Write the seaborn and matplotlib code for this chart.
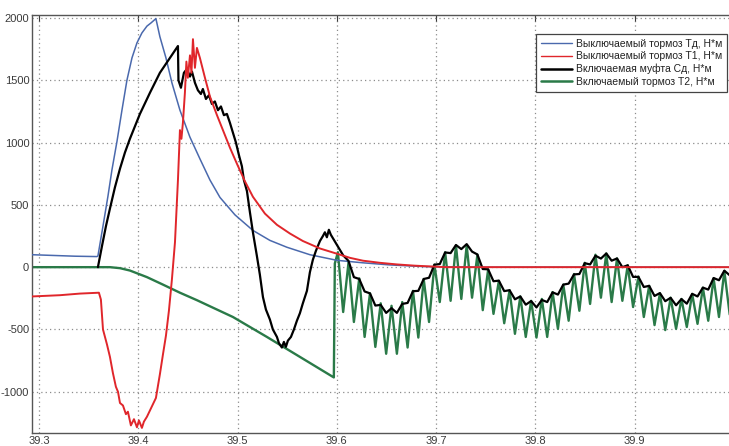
import matplotlib
matplotlib.use("Agg")
import matplotlib.pyplot as plt
import seaborn as sns
import pandas as pd
from matplotlib.lines import Line2D

# ---------------- data (time in s, torque in N*m) ----------------
x_ticks = [39.3, 39.4, 39.5, 39.6, 39.7, 39.8, 39.9]
x_tick_labels = ["39.3", "39.4", "39.5", "39.6", "39.7", "39.8", "39.9"]
y_ticks = [-1000, -500, 0, 500, 1000, 1500, 2000]
y_tick_labels = ["-1000", "-500", "0", "500", "1000", "1500", "2000"]

labels = ["Выключаемый тормоз Тд, Н*м", "Выключаемый тормоз Т1, Н*м",
          "Включаемая муфта Сд, Н*м", "Включаемый тормоз Т2, Н*м"]

td_t = [39.2930, 39.3111, 39.3363, 39.3584, 39.3594, 39.3645, 39.3695, 39.3735, 39.3786,
        39.3836, 39.3886, 39.3937, 39.3987, 39.4037, 39.4088, 39.4128, 39.4178, 39.4218,
        39.4279, 39.4339, 39.4420, 39.4520, 39.4621, 39.4722, 39.4823, 39.4974, 39.5155,
        39.5326, 39.5497, 39.5729, 39.6001, 39.6263, 39.6535, 39.6867, 39.7139, 39.7441, 40.0]
td_v = [100, 95, 88, 85, 90, 330, 570, 780, 1010,
        1260, 1500, 1680, 1800, 1880, 1935, 1960, 1995, 1850,
        1680, 1480, 1260, 1045, 870, 700, 560, 420, 295,
        215, 160, 100, 55, 35, 18, 5, 2, 0, 0]

t1_t = [39.2930, 39.3211, 39.3413, 39.3604, 39.3624, 39.3645, 39.3685, 39.3715, 39.3745,
        39.3775, 39.3796, 39.3816, 39.3846, 39.3876, 39.3896, 39.3926, 39.3957, 39.3987,
        39.4007, 39.4037, 39.4057, 39.4088, 39.4118, 39.4148, 39.4178, 39.4218, 39.4249,
        39.4279, 39.4309, 39.4339, 39.4370, 39.4400, 39.4420, 39.4435, 39.4450, 39.4470,
        39.4485, 39.4500, 39.4521, 39.4536, 39.4551, 39.4571, 39.4591, 39.4621, 39.4672,
        39.4722, 39.4793, 39.4853, 39.4923, 39.4994, 39.5074, 39.5155, 39.5276, 39.5397,
        39.5528, 39.5658, 39.5830, 39.6001, 39.6132, 39.6263, 39.6434, 39.6605, 39.6786,
        39.6937, 39.7109, 40.0]
t1_v = [-235, -225, -212, -205, -260, -500, -620, -720, -850,
        -960, -1000, -1090, -1110, -1180, -1160, -1270, -1220, -1285,
        -1230, -1290, -1240, -1200, -1150, -1100, -1050, -860, -700,
        -550, -350, -100, 200, 700, 1100, 1030, 1160, 1400,
        1650, 1520, 1700, 1560, 1830, 1600, 1760, 1680, 1520,
        1370, 1220, 1100, 960, 830, 690, 565, 430, 340,
        270, 210, 150, 108, 75, 52, 35, 22, 12,
        6, 0, 0]

cd_t = [39.3594, 39.3635, 39.3675, 39.3715, 39.3765, 39.3816, 39.3866, 39.3916, 39.4017,
        39.4118, 39.4218, 39.4319,
        39.4400, 39.4405, 39.4430, 39.4460, 39.4490, 39.4521, 39.4541, 39.4571, 39.4601,
        39.4631, 39.4651, 39.4682, 39.4712, 39.4742, 39.4772, 39.4803, 39.4833, 39.4863,
        39.4893, 39.4923, 39.4954, 39.4984, 39.5014, 39.5044, 39.5064, 39.5095, 39.5125,
        39.5155, 39.5195, 39.5225, 39.5256, 39.5286, 39.5326, 39.5356, 39.5397, 39.5417,
        39.5447, 39.5467, 39.5487, 39.5507, 39.5538, 39.5568, 39.5598, 39.5628, 39.5658,
        39.5699, 39.5729, 39.5759, 39.5789, 39.5830, 39.5860, 39.5880, 39.5900, 39.5920,
        39.5940, 39.5970, 39.6001,
        39.6064, 39.6118, 39.6172, 39.6226, 39.6280, 39.6334, 39.6388, 39.6442, 39.6497, 39.6551,
        39.6605, 39.6659, 39.6713, 39.6767, 39.6821, 39.6875, 39.6929, 39.6983, 39.7037, 39.7091,
        39.7146, 39.7200, 39.7254, 39.7308, 39.7362, 39.7416, 39.7470, 39.7524, 39.7578, 39.7632,
        39.7686, 39.7740, 39.7794, 39.7848, 39.7903, 39.7957, 39.8011, 39.8065, 39.8119, 39.8173,
        39.8227, 39.8281, 39.8335, 39.8389, 39.8443, 39.8497, 39.8551, 39.8605, 39.8660, 39.8714,
        39.8768, 39.8822, 39.8876, 39.8930, 39.8984, 39.9038, 39.9092, 39.9146, 39.9200, 39.9254,
        39.9308, 39.9362, 39.9417, 39.9471, 39.9525, 39.9579, 39.9633, 39.9687, 39.9741, 39.9795,
        39.9849, 39.9903, 39.9957]
cd_v = [0, 170, 330, 470, 640, 790, 920, 1030, 1230,
        1400, 1560, 1680,
        1775, 1500, 1440, 1560, 1590, 1530, 1570, 1480, 1420,
        1390, 1430, 1350, 1380, 1310, 1330, 1260, 1290, 1220,
        1230, 1160, 1080, 1000, 900, 810, 700, 610, 440,
        280, 90, -60, -240, -340, -420, -500, -560, -610,
        -645, -600, -640, -590, -560, -500, -430, -370, -290,
        -190, -40, 60, 130, 210, 250, 280, 240, 300,
        260, 220, 180,
        95, 50, -80, -95, -195, -210, -308, -303, -367, -329,
        -367, -295, -287, -193, -190, -95, -85, 20, 25, 118,
        113, 178, 145, 185, 125, 102, -15, -17, -113, -108,
        -192, -185, -258, -235, -301, -272, -323, -263, -280, -202,
        -220, -140, -132, -58, -55, 32, 22, 92, 69, 110,
        52, 70, 0, 15, -78, -78, -159, -150, -231, -208,
        -273, -246, -306, -256, -293, -214, -235, -164, -180, -87,
        -105, -28, -65]

t2_t = [39.2930, 39.3715, 39.3816, 39.3916, 39.4088, 39.4249, 39.4420, 39.4591, 39.4752,
        39.4954, 39.5296, 39.5628, 39.5970, 39.5980, 39.6011,
        39.6064, 39.6118, 39.6172, 39.6226, 39.6280, 39.6334, 39.6388, 39.6442, 39.6497, 39.6551,
        39.6605, 39.6659, 39.6713, 39.6767, 39.6821, 39.6875, 39.6929, 39.6983, 39.7037, 39.7091,
        39.7146, 39.7200, 39.7254, 39.7308, 39.7362, 39.7416, 39.7470, 39.7524, 39.7578, 39.7632,
        39.7686, 39.7740, 39.7794, 39.7848, 39.7903, 39.7957, 39.8011, 39.8065, 39.8119, 39.8173,
        39.8227, 39.8281, 39.8335, 39.8389, 39.8443, 39.8497, 39.8551, 39.8605, 39.8660, 39.8714,
        39.8768, 39.8822, 39.8876, 39.8930, 39.8984, 39.9038, 39.9092, 39.9146, 39.9200, 39.9254,
        39.9308, 39.9362, 39.9417, 39.9471, 39.9525, 39.9579, 39.9633, 39.9687, 39.9741, 39.9795,
        39.9849, 39.9903, 39.9957]
t2_v = [0, 0, -8, -27, -80, -140, -205, -265, -325,
        -400, -560, -720, -885, 30, 120,
        -360, 40, -440, -90, -560, -210, -640, -290, -695, -310,
        -695, -280, -645, -190, -565, -95, -440, 20, -280, 120,
        -270, 175, -255, 175, -245, 100, -345, -20, -375, -110,
        -450, -185, -535, -235, -560, -270, -565, -255, -560, -200,
        -495, -140, -430, -55, -350, 35, -295, 100, -245, 110,
        -280, 70, -270, 15, -320, -75, -400, -150, -465, -210,
        -505, -245, -495, -255, -480, -215, -455, -165, -430, -90,
        -400, -30, -380]

# ---------------- styling ----------------
sns.set_theme(style="white")
plt.rcParams["font.family"] = ["Liberation Sans Narrow", "Liberation Sans", "DejaVu Sans"]
plt.rcParams["axes.unicode_minus"] = False

fig = plt.figure(figsize=(7.29, 4.46), dpi=100)
ax = fig.add_axes([32 / 729, 1 - 433 / 446, 1 - 32 / 729, (433 - 15) / 446])

c_td = "#4a69ad"
c_t1 = "#e0262b"
c_cd = "#000000"
c_t2 = "#2a7a48"

series = [
    (td_t, td_v, c_td, 1.1, 3, labels[0]),
    (t1_t, t1_v, c_t1, 1.4, 5, labels[1]),
    (cd_t, cd_v, c_cd, 1.6, 4, labels[2]),
    (t2_t, t2_v, c_t2, 1.7, 2, labels[3]),
]
for t, v, col, lw, z, lab in series:
    df = pd.DataFrame({"t": t, "v": v})
    sns.lineplot(data=df, x="t", y="v", ax=ax, estimator=None, sort=False,
                 color=col, linewidth=lw, zorder=z, legend=False)

ax.set_xlim(39.2930, 39.9950)
ax.set_ylim(-1331, 2024)
ax.set_xticks(x_ticks)
ax.set_xticklabels(x_tick_labels)
ax.set_yticks(y_ticks)
ax.set_yticklabels(y_tick_labels)
ax.set_xlabel("")
ax.set_ylabel("")

ax.grid(True, linestyle=(0, (1, 2.5)), color="#8c8c8c", linewidth=0.9)
ax.tick_params(axis="both", direction="in", length=4, width=0.8, colors="#3a3a3a",
               labelsize=8, top=True, right=False)
ax.tick_params(axis="x", pad=2)
ax.tick_params(axis="y", pad=2)
for s in ["left", "bottom", "top"]:
    ax.spines[s].set_color("#555555")
    ax.spines[s].set_linewidth(1.0)
ax.spines["right"].set_visible(False)

handles = [Line2D([], [], color=c, lw=w) for c, w in
           [(c_td, 1.0), (c_t1, 1.0), (c_cd, 1.8), (c_t2, 1.8)]]
leg = ax.legend(handles, labels, loc="upper left", bbox_to_anchor=(0.723, 0.9545),
                borderaxespad=0, fontsize=7.5, frameon=True, fancybox=False,
                framealpha=1, edgecolor="#444444", handlelength=3.0,
                handletextpad=0.4, labelspacing=0.25, borderpad=0.45)
leg.get_frame().set_linewidth(0.9)
for txt in leg.get_texts():
    txt.set_color("#222222")

fig.savefig("out.png", dpi=100)
